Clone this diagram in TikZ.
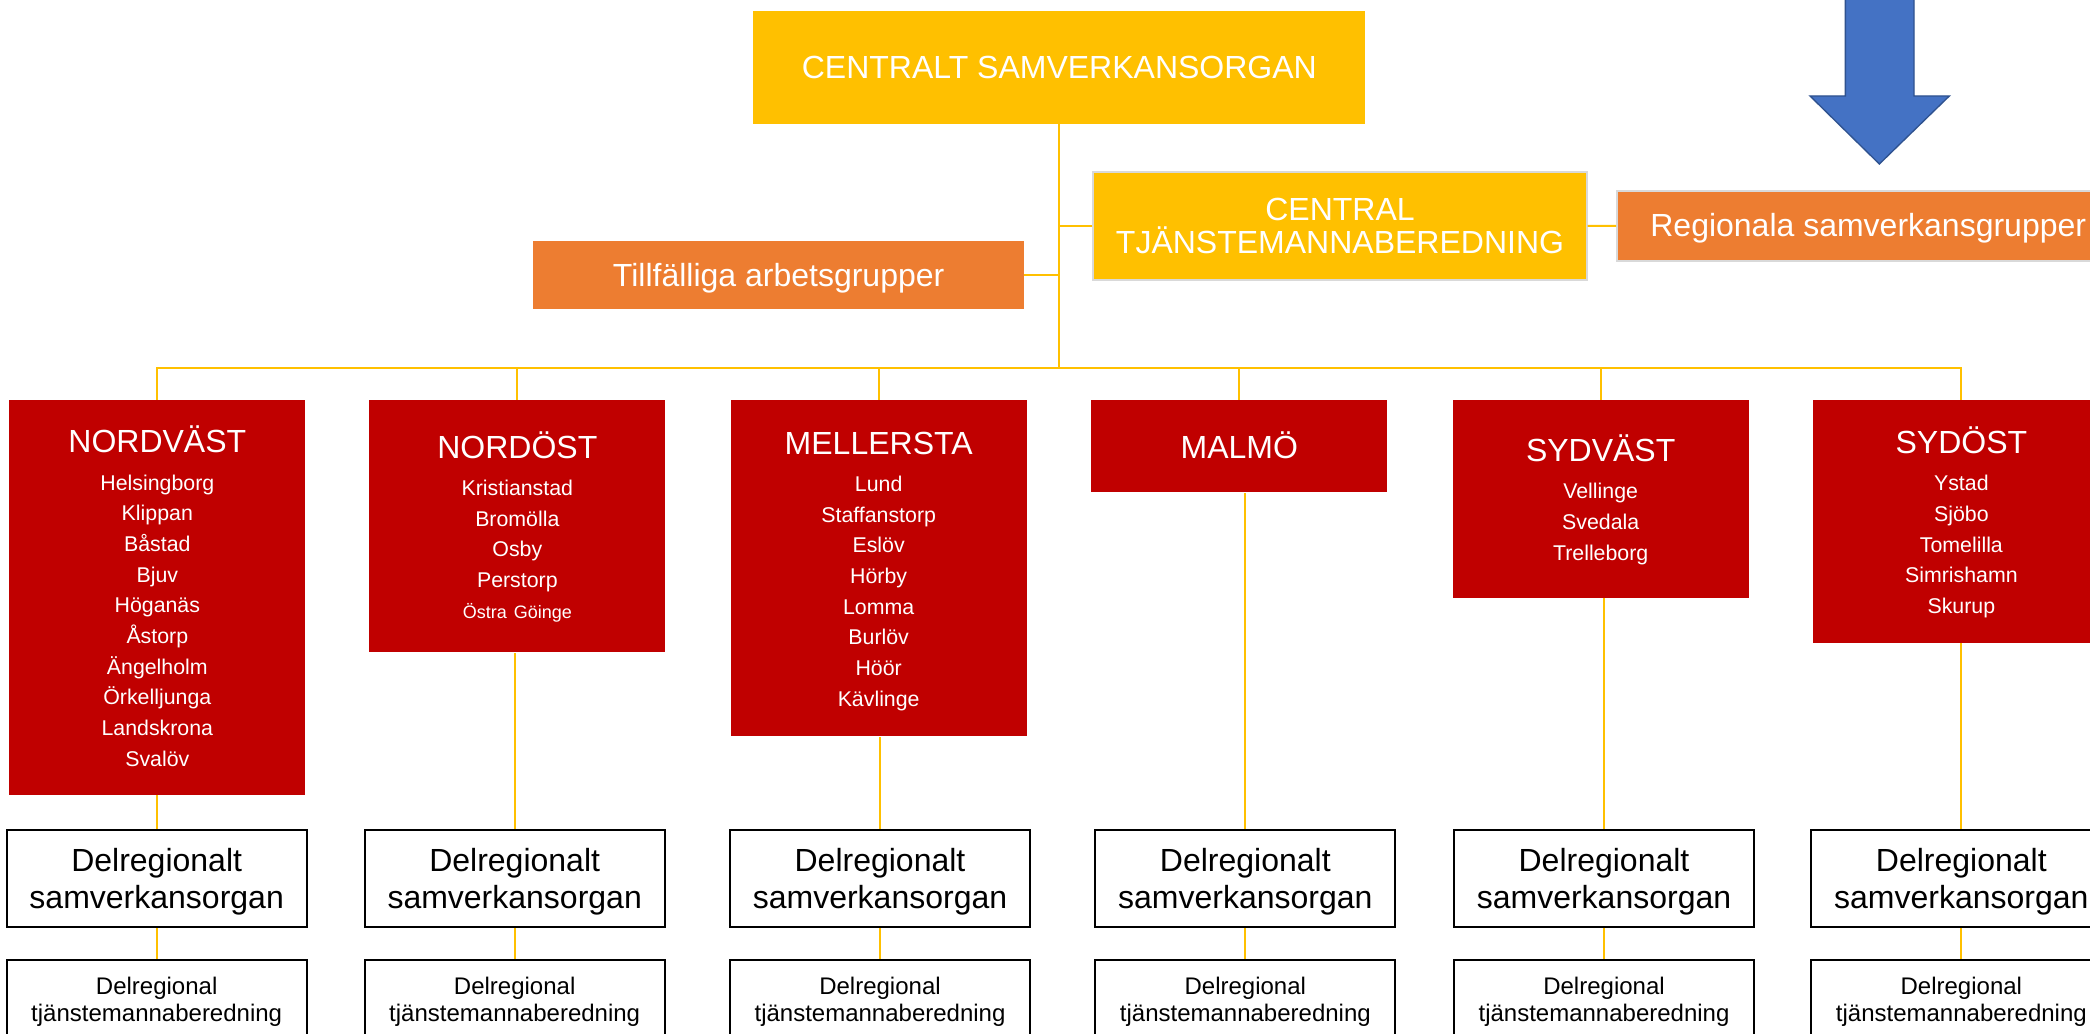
\documentclass[tikz,border=0pt]{standalone}
\usepackage{fontspec}
\setmainfont{Liberation Sans}
\usetikzlibrary{calc}
\definecolor{sgold}{HTML}{FFC000}
\definecolor{sorange}{HTML}{ED7D31}
\definecolor{sred}{HTML}{C00000}
\definecolor{sblue}{HTML}{4472C4}
\definecolor{sblueedge}{HTML}{2F528F}
\definecolor{sgray}{HTML}{D9D9D9}
\newcommand{\opp}[1]{\rule{0pt}{#1pt}}
\newcommand{\ned}[1]{\rule[-#1pt]{0pt}{#1pt}}
\newcommand{\rtitel}[1]{{\fontsize{24}{24}\selectfont\opp{24}#1\par}\vspace{5pt}}
\begin{document}
\begin{tikzpicture}[x={(1pt,0pt)}, y={(0pt,-1pt)},
  link/.style={draw=sgold,line width=1.5pt},
  oneline/.style={text height=21.7pt,text depth=5.1pt},
  goldbox/.style={fill=sgold,text=white,inner sep=0pt,font=\fontsize{24}{25}\selectfont},
  orangebox/.style={fill=sorange,text=white,inner sep=0pt,font=\fontsize{24}{25}\selectfont},
  redbox/.style={fill=sred,text=white,inner sep=0pt,anchor=north,text width=222pt,align=center,
    font=\fontsize{16}{23}\selectfont,execute at begin node={\parindent=0pt}},
  delbox/.style={draw=black,line width=1.6pt,fill=white,inner sep=0pt,minimum width=225pt,anchor=north,align=center}]
\path[use as bounding box,fill=white] (0,0) rectangle (1567.5,775.5);
\clip (0,0) rectangle (1567.5,775.5);
%central level
\node[goldbox,oneline,minimum width=459pt,minimum height=85pt] (central) at (794.5,50.5) {CENTRALT SAMVERKANSORGAN};
\node[goldbox,draw=sgray,line width=1.5pt,minimum width=370pt,minimum height=81pt,align=center] (ctj) at (1005,169.5) {\opp{21.7}CENTRAL\\TJÄNSTEMANNABEREDNING\ned{5.1}};
\node[orangebox,oneline,minimum width=368pt,minimum height=51pt] (tmp) at (584,206.5) {Tillfälliga arbetsgrupper};
\node[orangebox,oneline,draw=sgray,line width=1.5pt,anchor=west,minimum height=52.5pt,inner xsep=25pt] (reg) at (1212,169.25) {Regionala samverkansgrupper};
%arrow
\fill[sblue,draw=sblueedge,line width=1pt] (1384,-5)--(1384,72)--(1357.5,72)--(1409.5,123)--(1462,72)--(1435.5,72)--(1435.5,-5)--cycle;
%regions
\node[redbox,minimum height=296pt] (r1) at (118,300) {\rtitel{NORDVÄST}Helsingborg\\Klippan\\Båstad\\Bjuv\\Höganäs\\Åstorp\\Ängelholm\\Örkelljunga\\Landskrona\\Svalöv\ned{6}};
\node[redbox,minimum height=189pt] (r2) at (388,300) {\rtitel{NORDÖST}Kristianstad\\Bromölla\\Osby\\Perstorp\\{\fontsize{13.5}{23}\selectfont Östra Göinge}\ned{6}};
\node[redbox,minimum height=252pt] (r3) at (659,300) {\rtitel{MELLERSTA}Lund\\Staffanstorp\\Eslöv\\Hörby\\Lomma\\Burlöv\\Höör\\Kävlinge\ned{6}};
\node[redbox,minimum height=69pt] (r4) at (929.5,300) {{\fontsize{24}{24}\selectfont\opp{24}MALMÖ\ned{6}}};
\node[redbox,minimum height=148pt] (r5) at (1200.5,300) {\rtitel{SYDVÄST}Vellinge\\Svedala\\Trelleborg\ned{6}};
\node[redbox,minimum height=182pt] (r6) at (1471,300) {\rtitel{SYDÖST}Ystad\\Sjöbo\\Tomelilla\\Simrishamn\\Skurup\ned{6}};
%connectors
\coordinate (bus) at (794.5,276);
\draw[link] (central) -- (bus);
\draw[link] (ctj) -| (bus);
\draw[link] (tmp) -| (bus);
\draw[link] (ctj) -- (reg);
\foreach \i in {1,...,6}{
\draw[link] (bus) -| (r\i);
}
%subregional level
\foreach \x [count=\i] in {117.5,386,660,934,1203,1471}{
\node[delbox,minimum height=73pt,font=\fontsize{24}{27.5}\selectfont] (d\i) at (\x,621.5) {\opp{22}Delregionalt\\samverkansorgan\ned{5}};
\node[delbox,minimum height=59pt,font=\fontsize{18}{20.5}\selectfont] (t\i) at (\x,719.5) {\opp{16.3}Delregional\\tjänstemannaberedning\ned{3.8}};
\draw[link] (d\i) -- (d\i |- r\i.south);
\draw[link] (d\i) -- (t\i);
}
\end{tikzpicture}
\end{document}
